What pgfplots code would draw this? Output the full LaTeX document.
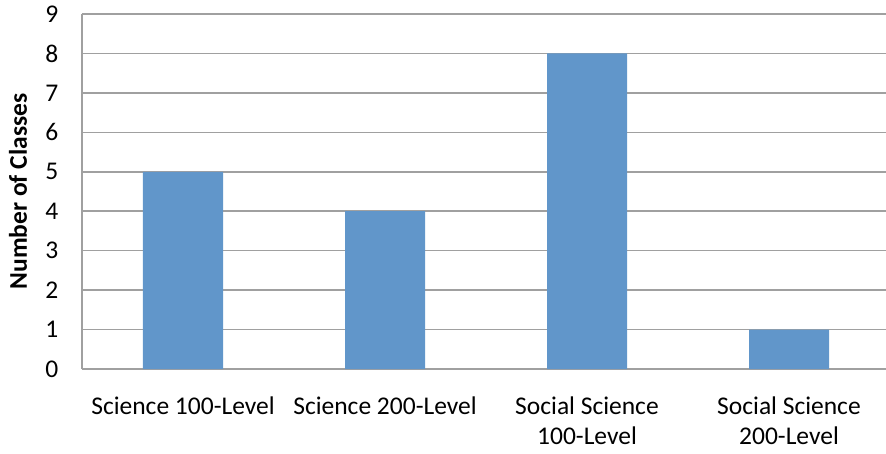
\documentclass[border=0pt]{standalone}
\usepackage{pgfplots}
\pgfplotsset{compat=1.18}
\usepackage{fontspec}
\setmainfont{Carlito}
\definecolor{barblue}{RGB}{97,150,202}
\definecolor{gridgray}{RGB}{160,160,160}
\begin{document}
\fontsize{25.5}{30}\selectfont
\begin{tikzpicture}
\useasboundingbox (-82pt,-84pt) rectangle (804pt,369pt);
\begin{axis}[
    scale only axis,
    width=808pt, height=355pt,
    at={(0,0)}, anchor=south west,
    xmin=-0.5, xmax=3.5,
    ymin=0, ymax=9,
    ytick={0,...,9},
    xtick=data,
    xticklabels={Science 100-Level,Science 200-Level,{Social Science\\100-Level},{Social Science\\200-Level}},
    xticklabel style={align=center, yshift=-19pt},
    yticklabel style={xshift=-15pt},
    major tick length=0pt,
    ymajorgrids,
    grid style={gridgray, line width=1.5pt},
    axis x line*=bottom,
    axis y line*=left,
    axis line style={gridgray, line width=1.5pt, -},
    ylabel={\bfseries Number of Classes},
    ylabel style={at={(rel axis cs:0,0.5)}, anchor=center, yshift=64pt},
    /pgf/number format/assume math mode=true,
    ticklabel style={font=\fontsize{25.5}{30}\selectfont},
    label style={font=\fontsize{25.5}{30}\selectfont},
]
\addplot[ybar, bar width=80pt, fill=barblue, draw=none] coordinates {
    (0,5) (1,4) (2,8) (3,1)
};
\end{axis}
\end{tikzpicture}
\end{document}
